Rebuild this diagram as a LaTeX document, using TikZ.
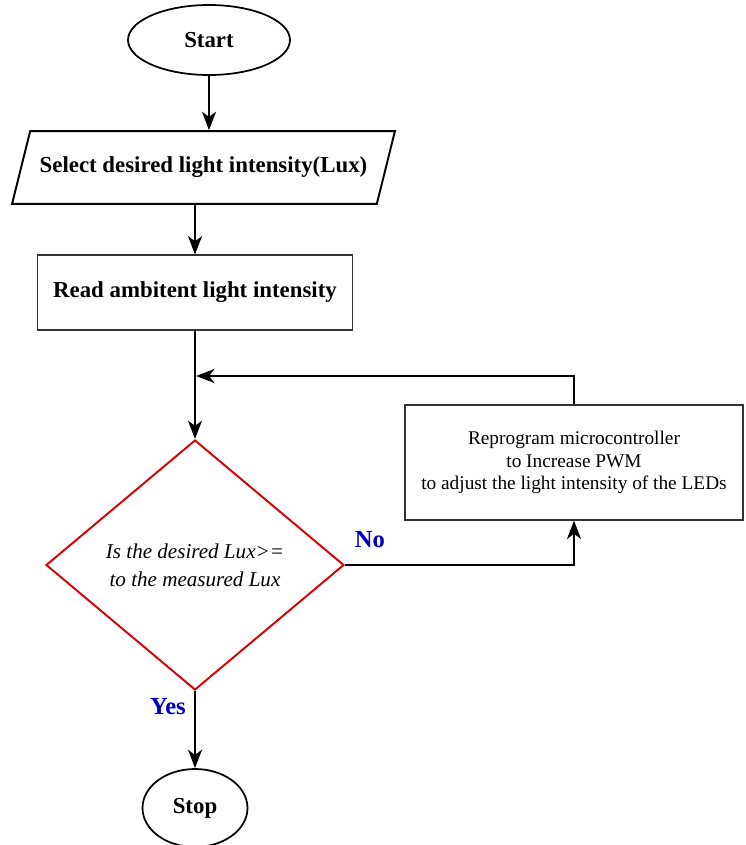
\documentclass[tikz,border=0pt]{standalone}
\usepackage{fontspec}
\setmainfont{Liberation Serif}
\usetikzlibrary{shapes.geometric,arrows.meta,positioning,calc}
\tikzset{arc/.style={-{Stealth[length=10.5pt,width=8pt,inset=3pt]}, line width=0.8pt},
         term/.style={ellipse, draw, line width=1pt, inner sep=0pt,
                      font=\fontsize{13}{15}\selectfont\bfseries},
         io/.style={trapezium, trapezium left angle=76, trapezium right angle=104,
                    trapezium stretches body, draw, line width=1.1pt, inner xsep=0pt, inner ysep=0.52cm,
                    font=\fontsize{13}{15}\selectfont\bfseries},
         proc/.style={rectangle, draw=black!80, line width=0.6pt, inner sep=0pt,
                      font=\fontsize{13}{15}\selectfont\bfseries},
         prog/.style={rectangle, draw=black!80, line width=0.7pt, inner sep=0pt, align=center,
                      font=\fontsize{11}{13}\selectfont},
         decide/.style={diamond, draw=red!85!black, line width=1.1pt, inner sep=0pt, align=center,
                        font=\fontsize{12}{16}\selectfont\itshape},
         lbl/.style={text=blue!75!black, inner sep=0pt, font=\fontsize{14}{16}\selectfont\bfseries}
}

\begin{document}
\begin{tikzpicture}[x=0.02cm, y=-0.02cm]
       \useasboundingbox (0,0) rectangle (745,845);
       % boxes
       \node[term, minimum width=3.24cm, minimum height=1.4cm] (start) at (209,40) {Start};
       \node[io, minimum width=7.66cm] (select) at (203.5,167.5) {Select desired light intensity(Lux)};
       \node[proc, minimum width=6.3cm, minimum height=1.5cm] (read) at (195,292.5) {Read ambitent light intensity};
       \node[decide, minimum width=5.96cm, minimum height=5cm] (check) at (195,565) {Is the desired Lux>=\\to the measured Lux};
       \node[prog, minimum width=6.76cm, minimum height=2.3cm] (pwm) at (574,462.5) {Reprogram microcontroller\\to Increase PWM\\to adjust the light intensity of the LEDs};
       \node[term, minimum width=2.1cm, minimum height=1.56cm] (stop) at (195,808) {Stop};
       \coordinate (loop) at (196,376);
       % connectors
       \draw[arc] (start) -- (start |- select.north);
       \draw[arc] (select.south -| read.north) -- (read);
       \draw[arc] (read) -- (check);
       \draw[arc] (pwm.north) |- (loop);
       \draw[arc] (check) -| (pwm);
       \draw[arc] (check) -- (stop);
       \node[lbl] (no) at (370,540) {No};
       \node[lbl] (yes) at (168,707) {Yes};
\end{tikzpicture}
\end{document}
